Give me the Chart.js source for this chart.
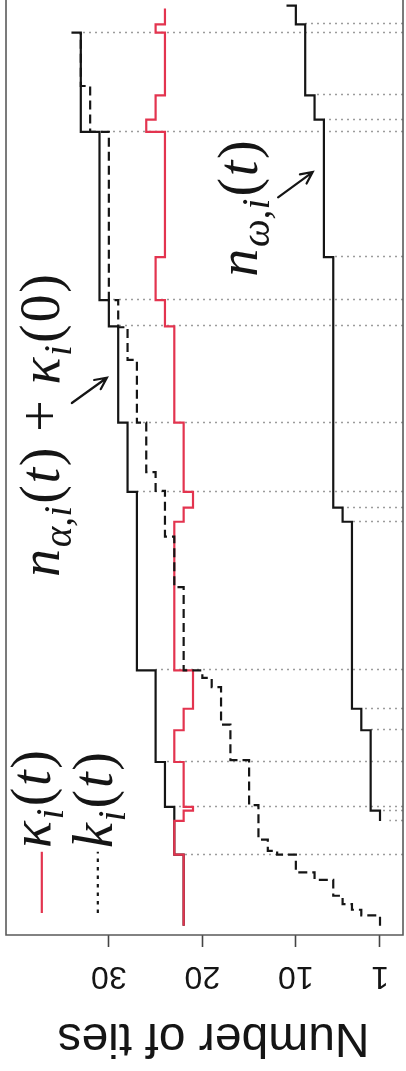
<!DOCTYPE html>
<html>
<head>
<meta charset="utf-8">
<script src="https://cdn.jsdelivr.net/npm/chart.js@4.4.1/dist/chart.umd.min.js"></script>
<style>
  html, body { margin: 0; padding: 0; background: #fff; overflow: hidden; }
  #wrap { position: absolute; left: 0; top: 0; width: 406px; height: 1071px;
          transform: rotate(180deg); transform-origin: 50% 50%; }
  canvas { display: block; }
</style>
</head>
<body>
<div id="wrap"><canvas id="ties" width="406" height="1071"></canvas></div>
<script>
// Step series: time at which each value starts, and the value.
const tAlpha = [1.0, 8.6, 13.7, 18.5, 28.3, 47.4, 54.8, 65.1, 67.9, 85.9, 96.5];
const nAlphaPlusKappa0 = [22, 23, 24, 25, 27, 28, 29, 30, 31, 33, 34];

const tOmega = [12.2, 13.3, 21.9, 24.2, 44.2, 45.7, 72.5, 87.2, 89.8, 97.4, 99.4];
const nOmega = [1, 2, 3, 4, 5, 6, 7, 8, 9, 10, 11];

const tKappa = [1.0, 8.6, 12.2, 13.3, 13.7, 18.5, 21.9, 24.2, 28.3, 44.2, 45.7,
                47.4, 54.8, 65.1, 67.9, 72.5, 85.9, 87.2, 89.8, 96.5, 97.4, 99.1];
const kappa = [22, 23, 22, 21, 22, 23, 22, 21, 23, 22, 21,
               22, 23, 24, 25, 24, 26, 25, 24, 25, 24, 24];

const tK = [1.0, 2.1, 2.7, 3.3, 4.2, 5.9, 6.7, 8.6, 9.0, 10.2, 13.9, 18.7, 22.5,
            26.5, 27.5, 28.3, 37.2, 42.6, 47.5, 49.5, 54.8, 61.5, 65.0, 67.9,
            85.9, 90.8, 96.5];
const kTies = [1, 3, 4, 5, 6, 8, 10, 12, 13, 14, 15, 17, 18,
               19, 20, 22, 23, 24, 25, 26, 27, 28, 29, 30,
               32, 33, 33];

// Tie events: time and the height the dotted marker reaches.
const tEvents = [8.6, 12.2, 13.3, 13.7, 18.5, 21.9, 24.2, 28.3, 44.2, 45.7,
                 47.4, 54.8, 65.1, 67.9, 72.5, 85.9, 87.2, 89.8, 96.5, 97.4];
const eventTop = [22, 0, 1, 23, 24, 2, 3, 25, 4, 5,
                  27, 28, 29, 30, 6, 31, 7, 8, 33, 9];

const tickValues = [1, 10, 20, 30];
const valueMin = -1.46, valueMax = 41.0;
const timeMin = 0, timeMax = 100;

const RED = '#e3344f';
const INK = '#151515';
const SANS = '"Liberation Sans", Arial, Helvetica, sans-serif';
const SERIF = '"Liberation Serif", "Times New Roman", serif';
const MATH_SIZE = 56;

function steps(ts, vs) { return ts.map((t, i) => ({ x: vs[i], y: t })); }

// math-style label runs: [text, style]  i = italic, r = roman, s = subscript
const labelKappa = [['κ', 'i'], ['i', 's'], ['(', 'r'], ['t', 'i'], [')', 'r']];
const labelK = [['k', 'i'], ['i', 's'], ['(', 'r'], ['t', 'i'], [')', 'r']];
const labelAlpha = [['n', 'i'], ['α,i', 's'], ['(', 'r'], ['t', 'i'], [')', 'r'],
                    [' + ', 'r'], ['κ', 'i'], ['i', 's'], ['(', 'r'], ['0', 'r'], [')', 'r']];
const labelOmega = [['n', 'i'], ['ω,i', 's'], ['(', 'r'], ['t', 'i'], [')', 'r']];

function drawMath(ctx, runs, px, py, size) {
  ctx.save();
  ctx.translate(px, py);
  ctx.rotate(Math.PI / 2);
  ctx.fillStyle = INK;
  ctx.textBaseline = 'alphabetic';
  ctx.textAlign = 'left';
  let cx = 0;
  for (const [txt, st] of runs) {
    const sub = st === 's';
    const fs = sub ? size * 0.7 : size;
    ctx.font = (st === 'r' ? '' : 'italic ') + fs + 'px ' + SERIF;
    ctx.fillText(txt, cx, sub ? size * 0.22 : 0);
    cx += ctx.measureText(txt).width + (sub ? size * 0.04 : size * 0.03);
  }
  ctx.restore();
}

function drawArrow(ctx, x1, y1, x2, y2) {
  const a = Math.atan2(y2 - y1, x2 - x1), h = 13, s = Math.PI / 7;
  ctx.save();
  ctx.strokeStyle = INK; ctx.lineWidth = 2.2; ctx.lineCap = 'round';
  ctx.beginPath(); ctx.moveTo(x1, y1); ctx.lineTo(x2, y2);
  ctx.moveTo(x2 - h * Math.cos(a - s), y2 - h * Math.sin(a - s));
  ctx.lineTo(x2, y2);
  ctx.lineTo(x2 - h * Math.cos(a + s), y2 - h * Math.sin(a + s));
  ctx.stroke();
  ctx.restore();
}

const decor = {
  id: 'decor',
  beforeDatasetsDraw(chart) {
    const { ctx, scales: { x, y } } = chart;
    ctx.save();
    ctx.strokeStyle = '#9c9c9c'; ctx.lineWidth = 1.3; ctx.setLineDash([2, 4]);
    const x0 = x.getPixelForValue(valueMin);
    tEvents.forEach((t, i) => {
      const py = Math.round(y.getPixelForValue(t)) + 0.5;
      ctx.beginPath();
      ctx.moveTo(x0, py);
      ctx.lineTo(x.getPixelForValue(eventTop[i]), py);
      ctx.stroke();
    });
    ctx.restore();
  },
  afterDatasetsDraw(chart) {
    const { ctx, chartArea: ca, scales: { x, y } } = chart;
    // plot frame
    ctx.save();
    ctx.strokeStyle = '#5a5a5a'; ctx.lineWidth = 1.6;
    ctx.beginPath();
    ctx.moveTo(ca.left, ca.bottom + 2); ctx.lineTo(ca.left, ca.top);
    ctx.lineTo(ca.right, ca.top); ctx.lineTo(ca.right, ca.bottom + 2);
    ctx.stroke();
    // axis title
    ctx.fillStyle = INK;
    ctx.font = '48px ' + SANS;
    ctx.textAlign = 'center'; ctx.textBaseline = 'middle';
    ctx.fillText('Number of ties', (x.left + x.right) / 2 - 9, x.top + 34);
    // legend
    ctx.lineWidth = 2.2; ctx.strokeStyle = RED;
    ctx.beginPath();
    ctx.moveTo(x.getPixelForValue(37.17), y.getPixelForValue(2.35));
    ctx.lineTo(x.getPixelForValue(37.17), y.getPixelForValue(8.9));
    ctx.stroke();
    ctx.strokeStyle = INK; ctx.setLineDash([3.5, 5]);
    ctx.beginPath();
    ctx.moveTo(x.getPixelForValue(31.18), y.getPixelForValue(2.35));
    ctx.lineTo(x.getPixelForValue(31.18), y.getPixelForValue(8.9));
    ctx.stroke();
    ctx.restore();
    drawMath(ctx, labelKappa, x.getPixelForValue(36.26), y.getPixelForValue(9.3), MATH_SIZE);
    drawMath(ctx, labelK, x.getPixelForValue(29.64), y.getPixelForValue(9.3), MATH_SIZE);
    // curve annotations
    drawMath(ctx, labelAlpha, x.getPixelForValue(35.35), y.getPixelForValue(38.3), MATH_SIZE);
    drawMath(ctx, labelOmega, x.getPixelForValue(14.2), y.getPixelForValue(70.4), MATH_SIZE);
    drawArrow(ctx, x.getPixelForValue(33.96), y.getPixelForValue(56.9),
                   x.getPixelForValue(30.21), y.getPixelForValue(59.6));
    drawArrow(ctx, x.getPixelForValue(11.9), y.getPixelForValue(78.9),
                   x.getPixelForValue(8.2), y.getPixelForValue(81.6));
  }
};

new Chart(document.getElementById('ties'), {
  type: 'line',
  data: {
    datasets: [
      { label: 'k_i(t)', data: steps(tK, kTies), order: 0,
        borderColor: INK, borderWidth: 2.2, borderDash: [9, 5] },
      { label: 'κ_i(t)', data: steps(tKappa, kappa), order: 1,
        borderColor: RED, borderWidth: 2.2 },
      { label: 'n_α,i(t) + κ_i(0)', data: steps(tAlpha, nAlphaPlusKappa0), order: 2,
        borderColor: INK, borderWidth: 2.2 },
      { label: 'n_ω,i(t)', data: steps(tOmega, nOmega), order: 3,
        borderColor: INK, borderWidth: 2.2 }
    ]
  },
  options: {
    responsive: false,
    animation: false,
    devicePixelRatio: 1,
    layout: { padding: { left: 3, right: 6, top: 0, bottom: 0 } },
    elements: {
      line: { stepped: 'after', fill: false, tension: 0, borderCapStyle: 'butt', borderJoinStyle: 'miter' },
      point: { radius: 0, hoverRadius: 0 }
    },
    plugins: { legend: { display: false }, tooltip: { enabled: false } },
    scales: {
      x: {
        type: 'linear', position: 'top', min: valueMin, max: valueMax,
        afterBuildTicks: ax => { ax.ticks = tickValues.map(v => ({ value: v })); },
        afterFit: ax => { ax.height = 136; },
        grid: { drawOnChartArea: false, drawTicks: true, tickLength: 12, tickWidth: 1.6, tickColor: '#444' },
        border: { display: false },
        ticks: { padding: 10, color: INK, maxRotation: 0, autoSkip: false,
                 font: { family: SANS, size: 32 }, callback: v => String(v) },
        title: { display: false, text: 'Number of ties' }
      },
      y: { type: 'linear', reverse: true, min: timeMin, max: timeMax, display: false }
    }
  },
  plugins: [decor]
});
</script>
</body>
</html>
